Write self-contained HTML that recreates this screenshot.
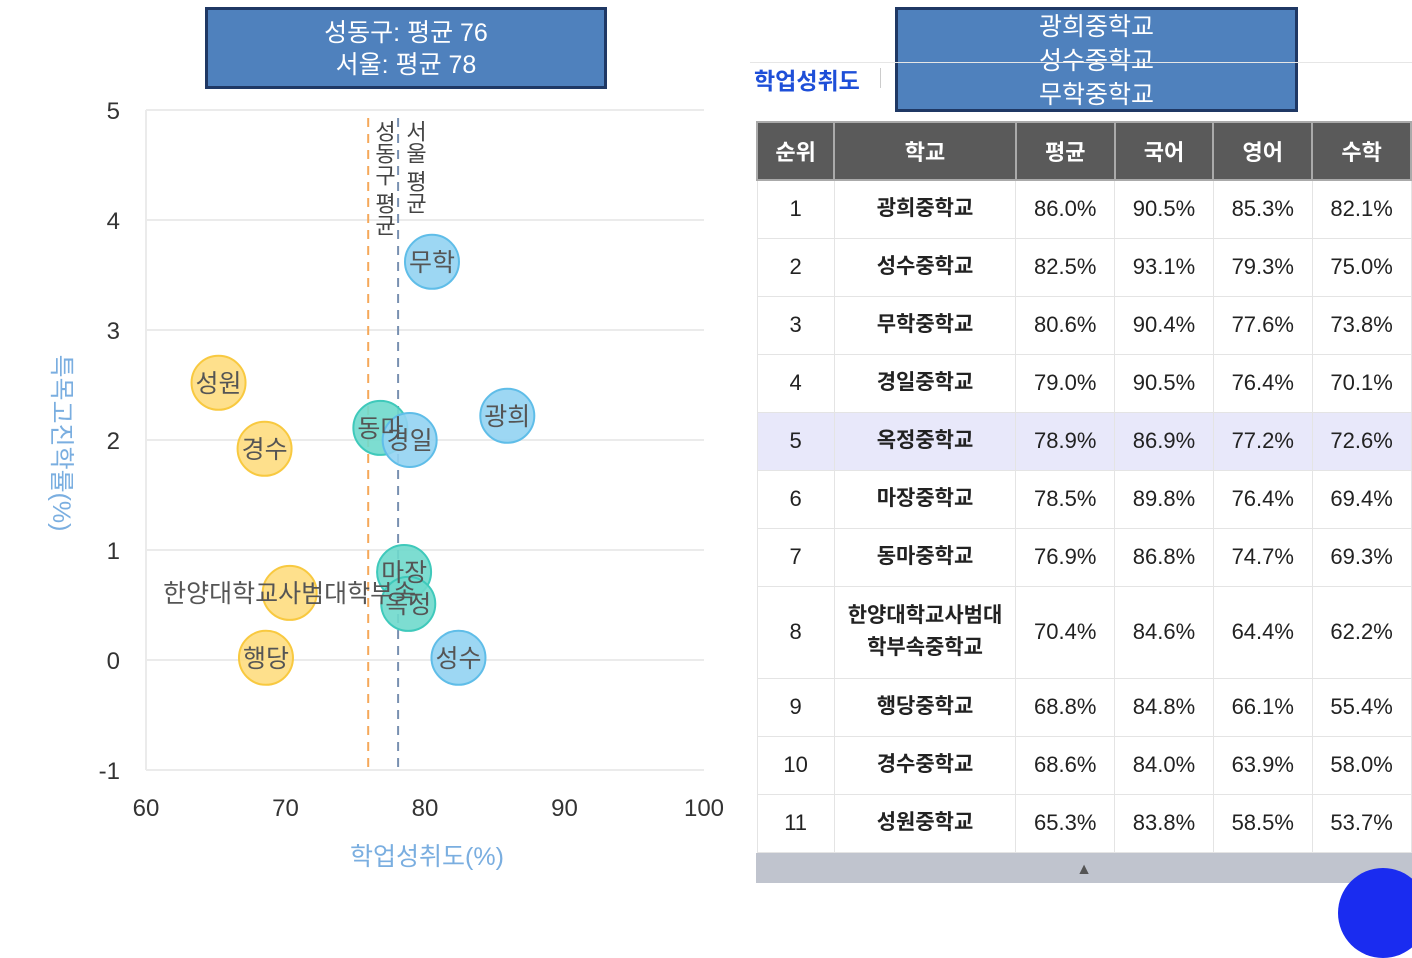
<!DOCTYPE html>
<html><head><meta charset="utf-8">
<style>
body{margin:0;width:1412px;height:883px;background:#fff;position:relative;overflow:hidden;font-family:"Liberation Sans","Noto Sans CJK KR",sans-serif;}
.box{position:absolute;background:#4f81bd;border:3px solid #1f3864;color:#fff;text-align:center;font-size:25px;line-height:32px;box-sizing:border-box;}
table{position:absolute;left:756px;top:121px;border-collapse:collapse;font-size:22px;color:#222;}
td,th{border:1px solid #e4e4e4;text-align:center;padding:0;}
th{background:#5a5a5a;color:#fff;border:2px solid #aaa;font-size:22px;height:56px;}
</style></head><body>
<div class="box" style="left:205px;top:7px;width:402px;height:82px;padding-top:7px">성동구: 평균 76<br>서울: 평균 78</div>
<div class="box" style="left:895px;top:7px;width:403px;height:105px;padding-top:0;line-height:34px">광희중학교<br>성수중학교<br>무학중학교</div>
<div style="position:absolute;left:750px;top:62px;width:662px;height:1px;background:#e6e6e6"></div>
<div style="position:absolute;left:754px;top:62px;font-size:23px;font-weight:bold;color:#1e4fd8">학업성취도</div>
<div style="position:absolute;left:880px;top:68px;width:1px;height:20px;background:#ccc"></div>

<svg id="chart" width="740" height="883" style="position:absolute;left:0;top:0" font-family="Liberation Sans, Noto Sans CJK KR, sans-serif"></svg>

<table>
<tr><th style="width:77px">순위</th><th style="width:185px">학교</th><th style="width:98px">평균</th><th style="width:98px">국어</th><th style="width:98px">영어</th><th style="width:98px">수학</th></tr>
<tbody id="tb"></tbody>
</table>
<div style="position:absolute;left:756px;top:853px;width:656px;height:30px;background:#c0c4ce;text-align:center;color:#555;font-size:16px;line-height:34px">▲</div>
<div style="position:absolute;left:1338px;top:868px;width:90px;height:90px;border-radius:50%;background:#1a2cf0"></div>

<script>
const names=["무학","성원","경수","동마","경일","광희","마장","옥정","한양대학교사범대학부속","행당","성수"];
const xs=[80.5,65.2,68.5,76.8,78.9,85.9,78.5,78.8,70.3,68.6,82.4];
const ys=[3.62,2.52,1.92,2.11,2.0,2.22,0.8,0.51,0.61,0.02,0.02];
const groups=["b","y","y","t","b","b","t","t","y","y","b"];
const xTicks=[60,70,80,90,100];
const yTicks=[-1,0,1,2,3,4,5];
const avgLines=[76,78];
const NS="http://www.w3.org/2000/svg";
const svg=document.getElementById('chart');
const X=v=>146+(v-60)*13.95, Y=v=>660-v*110;
function mk(t,a,txt){const e=document.createElementNS(NS,t);for(const k in a)e.setAttribute(k,a[k]);if(txt!=null)e.textContent=txt;svg.appendChild(e);return e;}
yTicks.forEach(v=>{
 const l=mk('line',{x1:146,x2:704,y1:Y(v),y2:Y(v),stroke:'#ebebeb','stroke-width':2});
 
 
 const t=mk('text',{x:120,y:Y(v)+9,'text-anchor':'end','font-size':24,fill:'#333'},v);
 
 
});
const ax=mk('line',{x1:146,x2:146,y1:110,y2:770,stroke:'#ebebeb','stroke-width':2});


xTicks.forEach(v=>{
 const t=mk('text',{x:X(v),y:816,'text-anchor':'middle','font-size':24,fill:'#333'},v);
 
 
});
const lc=['#f5a85a','#7890b0'];
avgLines.forEach((v,i)=>{
 const l=mk('line',{x1:X(v)+i*2-1,x2:X(v)+i*2-1,y1:118,y2:772,stroke:lc[i],'stroke-width':2,'stroke-dasharray':'9,7'});
 
 
});
const l1=mk('text',{x:384,y:120,'font-size':22,fill:'#444','writing-mode':'tb'},'성동구 평균');


const l2=mk('text',{x:415,y:120,'font-size':22,fill:'#444','writing-mode':'tb'},'서울 평균');


const fills={y:'#fedd80',t:'#6fd9cc',b:'#92d3f2'},strokes={y:'#f8c940',t:'#3fc9bb',b:'#5fbde8'};
names.forEach((n,i)=>{
 const c=mk('circle',{cx:X(xs[i]),cy:Y(ys[i]),r:27,fill:fills[groups[i]],stroke:strokes[groups[i]],'stroke-width':2,'fill-opacity':0.9});
 
 
});
names.forEach((n,i)=>{
 const t=mk('text',{x:X(xs[i]),y:Y(ys[i])+9,'text-anchor':'middle','font-size':25,fill:'#555'},n);
 
 
});
const xt=mk('text',{x:427,y:865,'text-anchor':'middle','font-size':25,fill:'#7aaee0'},'학업성취도(%)');


const yt=mk('text',{x:0,y:0,'text-anchor':'middle','font-size':25,fill:'#7aaee0',transform:'translate(53,443) rotate(90)'},'특목고진학률(%)');



const rows=[["1","광희중학교","86.0%","90.5%","85.3%","82.1%"],["2","성수중학교","82.5%","93.1%","79.3%","75.0%"],["3","무학중학교","80.6%","90.4%","77.6%","73.8%"],["4","경일중학교","79.0%","90.5%","76.4%","70.1%"],["5","옥정중학교","78.9%","86.9%","77.2%","72.6%"],["6","마장중학교","78.5%","89.8%","76.4%","69.4%"],["7","동마중학교","76.9%","86.8%","74.7%","69.3%"],["8","한양대학교사범대<br>학부속중학교","70.4%","84.6%","64.4%","62.2%"],["9","행당중학교","68.8%","84.8%","66.1%","55.4%"],["10","경수중학교","68.6%","84.0%","63.9%","58.0%"],["11","성원중학교","65.3%","83.8%","58.5%","53.7%"]];
const tb=document.getElementById('tb');
rows.forEach((r,i)=>{
 const tr=document.createElement('tr');
 
 
 tr.style.height=(i==7?92:58)+'px';
 if(i==4)tr.style.background='#e8e8fa';
 tr.innerHTML=r.map((c,j)=>`<td style="${j==1?'font-size:21px;font-weight:bold;line-height:32px':''}">${c}</td>`).join('');
 tb.appendChild(tr);
});
</script>
</body></html>
